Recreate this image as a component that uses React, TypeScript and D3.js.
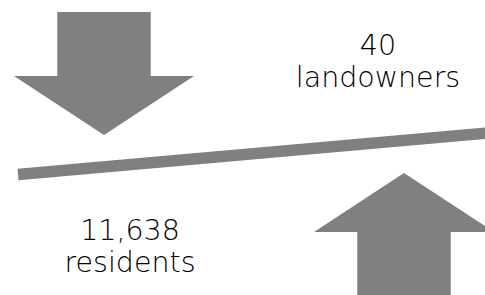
import React, { useEffect, useRef } from "react";
import * as d3 from "d3";

// two sides of the seesaw
const counts = [11638, 40];
const labels = ["residents", "landowners"];
const directions = ["down", "up"]; // arrow on the heavy side pushes down, light side pushes up

const App = () => {
  const svgRef = useRef<SVGSVGElement>(null);

  useEffect(() => {
    const svg = d3.select(svgRef.current);
    svg.selectAll("*").remove();

    const width = 485;
    const height = 295;
    const grey = "#808080";

    // beam position along the board (0 = left end, 1 = right end)
    const bx = d3.scaleLinear().domain([0, 1]).range([18, 492]);
    const by = d3.scaleLinear().domain([0, 1]).range([174.5, 132.7]);

    const beam = d3.line<number>().x((d) => bx(d)).y((d) => by(d));
    svg
      .append("path")
      .datum([0, 1])
      .attr("d", beam)
      .attr("fill", "none")
      .attr("stroke", grey)
      .attr("stroke-width", 11.5);

    // arrows: centre x, and y of tip / head base / shaft end
    const arrowX = d3.scaleOrdinal<string, number>().domain(directions).range([104, 404]);
    const headW = 90;
    const shaftW = 46.7;
    const headH = 59;

    const arrow = (dir: string) => {
      const cx = arrowX(dir);
      const p = d3.path();
      if (dir === "down") {
        const tip = 135;
        const base = tip - headH;
        const end = 12;
        p.moveTo(cx - shaftW, end);
        p.lineTo(cx + shaftW, end);
        p.lineTo(cx + shaftW, base);
        p.lineTo(cx + headW, base);
        p.lineTo(cx, tip);
        p.lineTo(cx - headW, base);
        p.lineTo(cx - shaftW, base);
      } else {
        const tip = 173;
        const base = tip + headH;
        const end = 296;
        p.moveTo(cx - shaftW, end);
        p.lineTo(cx + shaftW, end);
        p.lineTo(cx + shaftW, base);
        p.lineTo(cx + headW, base);
        p.lineTo(cx, tip);
        p.lineTo(cx - headW, base);
        p.lineTo(cx - shaftW, base);
      }
      p.closePath();
      return p.toString();
    };

    svg
      .selectAll(".arrow")
      .data(directions)
      .join("path")
      .attr("class", "arrow")
      .attr("d", (d) => arrow(d))
      .attr("fill", grey);

    // labels
    const textX = [130, 378];
    const textY = [240, 55];
    const fmt = d3.format(",");
    const g = svg
      .selectAll(".lbl")
      .data(counts)
      .join("text")
      .attr("class", "lbl")
      .attr("text-anchor", "middle")
      .attr("font-family", "'DejaVu Sans', sans-serif")
      .attr("font-weight", 200)
      .attr("font-size", 28.5)
      .attr("fill", "#000");
    g.append("tspan")
      .attr("x", (_, i) => textX[i])
      .attr("y", (_, i) => textY[i])
      .text((d) => fmt(d));
    g.append("tspan")
      .attr("x", (_, i) => textX[i])
      .attr("y", (_, i) => textY[i] + 31.5)
      .text((_, i) => labels[i]);

    svg.attr("width", width).attr("height", height);
  }, []);

  return (
    <svg
      ref={svgRef}
      style={{ position: "absolute", left: 0, top: 0, display: "block" }}
    ></svg>
  );
};

export default App;
